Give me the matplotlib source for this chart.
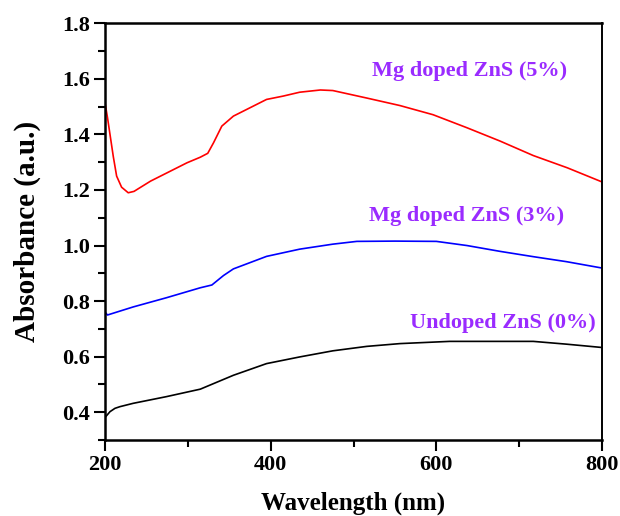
import numpy as np
import matplotlib
matplotlib.use("Agg")
import matplotlib.pyplot as plt
from matplotlib.ticker import MultipleLocator

# absorbance spectra (wavelength in nm)
wl_5 = [200, 203, 206, 210, 214, 220, 228, 235, 242, 255, 275, 299, 315, 324,
        331, 341, 355, 375, 395, 415, 435, 460, 475, 516, 556, 596, 637, 677,
        717, 758, 800]
abs_5 = [1.514, 1.46, 1.40, 1.32, 1.25, 1.21, 1.19, 1.195, 1.208, 1.232, 1.262,
         1.298, 1.318, 1.332, 1.37, 1.43, 1.466, 1.496, 1.526, 1.538, 1.552,
         1.56, 1.558, 1.531, 1.504, 1.471, 1.424, 1.376, 1.324, 1.280, 1.229]

wl_3 = [200, 203, 234, 274, 315, 329, 343, 355, 395, 435, 475, 504, 550, 600,
        637, 677, 717, 757, 800]
abs_3 = [0.76, 0.75, 0.779, 0.812, 0.848, 0.858, 0.892, 0.916, 0.961, 0.987,
         1.005, 1.015, 1.016, 1.015, 1.0, 0.979, 0.960, 0.942, 0.919]

wl_0 = [200, 206, 212, 218, 234, 274, 315, 327, 355, 395, 435, 475, 516, 556,
        616, 717, 757, 800]
abs_0 = [0.381, 0.402, 0.414, 0.420, 0.432, 0.456, 0.483, 0.498, 0.533, 0.575,
         0.599, 0.621, 0.637, 0.647, 0.655, 0.655, 0.645, 0.633]

labels = ["Mg doped ZnS (5%)", "Mg doped ZnS (3%)", "Undoped ZnS (0%)"]

plt.rcParams["font.family"] = ["Liberation Serif", "DejaVu Serif"]
plt.rcParams["font.weight"] = "bold"

fig = plt.figure(figsize=(6.2, 5.16), dpi=100)
ax = fig.add_axes([0.1694, 0.1473, 0.8016, 0.8075])

ax.plot(wl_5, abs_5, color="#ff0000", lw=1.2)
ax.plot(wl_3, abs_3, color="#0000ff", lw=1.2)
ax.plot(wl_0, abs_0, color="black", lw=1.2)

purple = "#9a2bff"
ax.text(640, 1.629, labels[0], color=purple, fontsize=16, fontweight="bold",
        ha="center", va="center")
ax.text(637, 1.106, labels[1], color=purple, fontsize=16, fontweight="bold",
        ha="center", va="center")
ax.text(680, 0.72, labels[2], color=purple, fontsize=16, fontweight="bold",
        ha="center", va="center")

ax.set_xlim(200, 800)
ax.set_ylim(0.3, 1.8)
ax.xaxis.set_major_locator(MultipleLocator(200))
ax.xaxis.set_minor_locator(MultipleLocator(100))
ax.yaxis.set_minor_locator(MultipleLocator(0.1))
ax.set_yticks(np.arange(0.4, 1.81, 0.2))

ax.tick_params(which="both", direction="out", top=False, right=False,
               width=1.5, labelsize=16)
ax.tick_params(which="major", length=8, pad=3)
ax.tick_params(which="minor", length=5)
for s in ax.spines.values():
    s.set_linewidth(1.8)
ax.spines["right"].set_linewidth(1.4)

ax.set_xlabel("Wavelength (nm)", fontsize=18, fontweight="bold", labelpad=12)
ax.set_ylabel("Absorbance (a.u.)", fontsize=21, fontweight="bold", labelpad=15)

fig.savefig("out.png", dpi=100)
